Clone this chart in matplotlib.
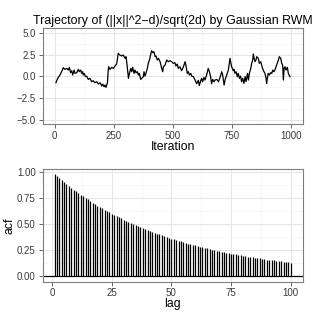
import matplotlib
matplotlib.use('Agg')
import matplotlib.pyplot as plt
from matplotlib.ticker import MultipleLocator

plt.rcParams['font.family'] = ['Liberation Sans', 'DejaVu Sans']

# -------------------------- trajectory --------------------------
iteration = [6, 9, 16, 23, 30, 37, 44, 52, 59, 63, 68, 73, 77, 83, 87, 94, 101, 105, 111, 115,
             119, 122, 126, 131, 136, 143, 150, 157, 164, 171, 179, 186, 193, 200, 204, 210, 214,
             218, 224, 227, 229, 235, 242,
             249, 256, 263, 270, 277, 284, 291, 299, 303, 308, 313, 317, 323, 327, 331, 337, 341,
             345, 351, 355, 359, 365, 369, 376, 379, 383, 387, 393, 397, 402, 407, 411, 416, 421,
             426, 430, 435, 440, 447, 454, 458, 461, 468, 475, 482, 489, 496, 503,
             510, 514, 520, 524, 531, 538, 545, 553, 557, 562, 567, 571, 577, 581, 588, 595, 602,
             609, 613, 619, 623, 627, 633, 637, 644, 651, 656, 661, 665, 670, 675, 680, 687, 694,
             701, 708, 712, 718, 722, 729, 736, 743, 750, 757,
             760, 764, 769, 774, 778, 783, 788, 792, 797, 802, 807, 811, 817, 821, 825, 831, 835,
             839, 842, 845, 849, 853, 856, 863, 867, 873, 877, 881, 887, 891, 896, 898, 901, 905,
             910, 915, 920, 924, 929, 934, 938, 943, 948, 952, 958, 962, 966, 969, 972, 976, 980,
             986, 990, 997]
traj = [-0.73, -0.50, -0.12, 0.15, 0.53, 0.99, 0.80, 0.91, 0.72, 1.03, 0.42, 0.65, 0.15, 0.72,
        0.34, 0.42, 0.80, 0.53, 0.72, 0.34, 0.53, 0.15, 0.34, -0.04, 0.03, -0.35, -0.23, -0.61,
        -0.50, -0.73, -0.61, -0.88, -0.73, -1.11, -0.88, -1.19, -0.99, -1.26, -0.73, 0.53, 1.10,
        0.80, 1.03,
        0.91, 1.18, 1.41, 2.63, 2.44, 2.33, 2.44, 2.06, 2.25, 1.10, -0.23, 0.34, 0.91, 0.53, 1.03,
        0.34, 0.72, 0.42, 0.53, 0.15, 0.34, -0.35, -0.23, -0.04, 0.53, 0.03, 0.34, 0.91, 1.49,
        1.87, 2.44, 2.94, 2.71, 2.82, 2.25, 2.33, 1.87, 2.06, 1.68, 0.91, 0.53, 1.10, 1.29, 1.87,
        1.68, 1.79, 1.68, 1.49,
        1.56, 1.18, 1.41, 0.91, 1.10, 0.65, 1.03, 1.68, 1.18, 0.34, 0.53, 0.15, 0.34, 0.03, -0.04,
        -0.42, -0.85, -0.45, -1.05, -0.50, -0.23, -0.61, -0.12, -0.42, 0.15, 0.91, 0.53, -0.04,
        -0.85, -0.35, -0.61, -0.42, -0.35, -0.61, -0.12, 0.53, 0.15, -1.0, -0.42, 0.15, 0.72,
        2.06, 1.10, 0.65,
        0.80, 0.34, 0.53, -0.04, 0.34, -0.23, 0.03, -0.61, -0.23, -0.81, -0.04, -0.61, 0.34,
        -0.42, 0.34, 0.91, 1.49, 1.87, 2.55, 2.06, 1.68, 1.87, 2.25, 2.06, 1.49, 1.68, 1.29, 0.91,
        0.53, 0.34, -0.23, -0.81, -0.23, 0.34, 0.15, 0.42, 0.34, 0.72, 0.53, 0.80, 1.10, 1.49,
        1.87, 2.25, 2.06, 1.49, 1.29, -0.42, 0.91, 1.10, 0.72, 1.03, 0.34, -0.04]

# -------------------------- autocorrelation --------------------------
lags = list(range(1, 101))
acf = [0.980, 0.960, 0.941, 0.922, 0.904, 0.886, 0.868, 0.851, 0.834, 0.817,
       0.801, 0.785, 0.769, 0.754, 0.739, 0.724, 0.709, 0.695, 0.681, 0.668,
       0.654, 0.641, 0.628, 0.616, 0.603, 0.591, 0.580, 0.568, 0.557, 0.545,
       0.535, 0.524, 0.513, 0.503, 0.493, 0.483, 0.474, 0.464, 0.455, 0.446,
       0.437, 0.428, 0.419, 0.411, 0.403, 0.395, 0.387, 0.379, 0.372, 0.364,
       0.357, 0.350, 0.343, 0.336, 0.329, 0.323, 0.316, 0.310, 0.304, 0.298,
       0.292, 0.286, 0.280, 0.274, 0.269, 0.264, 0.258, 0.253, 0.248, 0.243,
       0.238, 0.233, 0.229, 0.224, 0.220, 0.215, 0.211, 0.207, 0.203, 0.199,
       0.195, 0.191, 0.187, 0.183, 0.180, 0.176, 0.172, 0.169, 0.166, 0.162,
       0.159, 0.156, 0.153, 0.150, 0.147, 0.144, 0.141, 0.138, 0.135, 0.133]

W = H = 315


def px_axes(fig, left, top, right, bottom):
    return fig.add_axes([left / W, 1 - bottom / H, (right - left) / W, (bottom - top) / H])


def bw_style(ax, xmaj, ymaj, yfmt):
    ax.set_facecolor('white')
    for s in ax.spines.values():
        s.set_color('#7f7f7f')
        s.set_linewidth(0.8)
    ax.xaxis.set_major_locator(MultipleLocator(xmaj))
    ax.xaxis.set_minor_locator(MultipleLocator(xmaj / 2))
    ax.yaxis.set_major_locator(MultipleLocator(ymaj))
    ax.yaxis.set_minor_locator(MultipleLocator(ymaj / 2))
    ax.yaxis.set_major_formatter(yfmt)
    ax.grid(which='major', color='#e5e5e5', linewidth=0.7)
    ax.grid(which='minor', color='#f5f5f5', linewidth=0.5)
    ax.set_axisbelow(True)
    ax.tick_params(which='major', length=3, width=0.6, color='#4d4d4d',
                   labelsize=7.0, labelcolor='#3a3a3a', pad=2)
    ax.tick_params(which='minor', length=0)


fig = plt.figure(figsize=(3.15, 3.15), dpi=100)

# -------------------------- trajectory panel --------------------------
ax1 = px_axes(fig, 42.7, 28.3, 302.5, 124.4)
ax1.plot(iteration, traj, color='black', linewidth=0.9)
ax1.set_xlim(-50, 1050)
ax1.set_ylim(-5.5, 5.5)
bw_style(ax1, 250, 2.5, '{x:.1f}')
ax1.set_xticks([0, 250, 500, 750, 1000])
ax1.set_yticks([-5, -2.5, 0, 2.5, 5])
ax1.set_yticklabels(['\u22125.0', '\u22122.5', '0.0', '2.5', '5.0'])
ax1.set_xlabel('Iteration', fontsize=8.8, labelpad=0)
ax1.set_title('Trajectory of (||x||^2\u2212d)/sqrt(2d) by Gaussian RWM', fontsize=8.9, pad=3)

# -------------------------- acf panel --------------------------
ax2 = px_axes(fig, 42.7, 169.3, 302.5, 281.5)
ax2.vlines(lags, 0, acf, color='black', linewidth=0.9)
ax2.axhline(0, color='black', linewidth=0.9)
ax2.set_xlim(-3.95, 104.95)
ax2.set_ylim(-0.049, 1.029)
bw_style(ax2, 25, 0.25, '{x:.2f}')
ax2.set_xlabel('lag', fontsize=8.8, labelpad=0)
ax2.set_ylabel('acf', fontsize=8.8, labelpad=1)

fig.savefig('out.png', dpi=100)
